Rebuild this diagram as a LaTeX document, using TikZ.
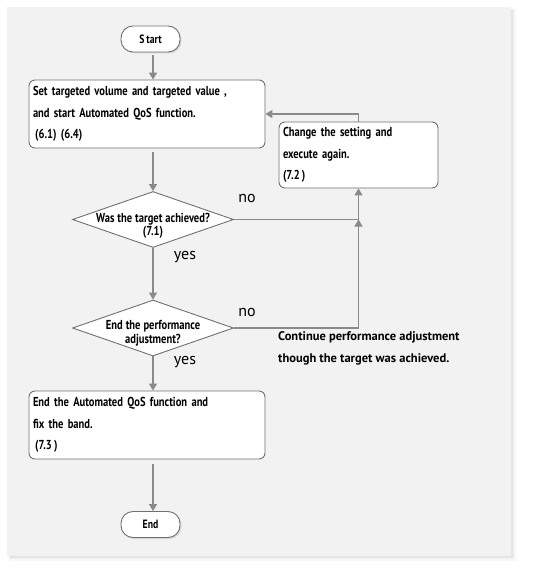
\documentclass[tikz,border=0pt]{standalone}
\usepackage{fontspec}
\setmainfont{PT Sans}
\newfontfamily\boxfont{PT Sans}[FakeStretch=0.81]
\usetikzlibrary{arrows.meta}
\usetikzlibrary{shapes.geometric}
\usetikzlibrary{shadows}
\definecolor{panelgray}{HTML}{F2F2F2}
\definecolor{linegray}{HTML}{8A8A8A}
\definecolor{boxgray}{HTML}{707070}
\newcommand{\tightspace}{\spaceskip=3pt plus 1pt minus 0.5pt\relax}

\begin{document}
\begin{tikzpicture}[x=1pt, y=-1pt,
	line/.style={draw=linegray, line width=1.3pt},
	flow/.style={line, -{Triangle[length=7pt, width=8pt]}},
	terminal/.style={draw=boxgray, line width=0.9pt, fill=white, rounded corners=12pt,
		minimum width=59pt, minimum height=26pt, inner sep=0pt,
		drop shadow={shadow xshift=1.5pt, shadow yshift=-1.5pt, fill=black!25},
		font=\boxfont\bfseries\fontsize{12}{14}\selectfont},
	process/.style={draw=boxgray, line width=0.9pt, fill=white, rounded corners=6pt,
		align=left, inner sep=4pt,
		font=\boxfont\bfseries\fontsize{13}{21.5}\selectfont\tightspace},
	decision/.style={draw=boxgray, line width=0.9pt, fill=white, diamond, inner sep=0pt,
		minimum width=161pt, minimum height=56pt},
	dtext/.style={align=center, inner sep=0pt,
		font=\boxfont\bfseries\fontsize{13}{13.5}\selectfont\tightspace},
	answer/.style={font=\fontsize{16}{18}\selectfont},
	remark/.style={align=left, inner sep=0pt, font=\bfseries\fontsize{12.5}{22}\selectfont},
]

\useasboundingbox (0, 0) rectangle (533, 569);
\fill[black!3] (9, 9) rectangle (516, 561);
\fill[black!6] (9, 9) rectangle (514, 559);
\fill[black!10] (9, 9) rectangle (512.5, 557.5);
\fill[panelgray] (7, 7) rectangle (511, 556);

\node[terminal] (start) at (150.5, 39) {S\,tart};
\node[process, text width=228pt, minimum width=236pt, minimum height=68pt] (setup) at (147, 114)
	{Set targeted volume and targeted value ,\\ and start Automated QoS function.\\ \,(6.1) (6.4)};
\node[process, text width=151pt, minimum width=159pt, minimum height=66pt] (change) at (358.5, 155)
	{Change the setting and\\ execute again.\\ (7.2\,)};
\node[decision] (target) at (153, 219.5) {};
\node[dtext] (targettext) at (153, 226) {Was the target achieved?\\ (7.1)};
\node[decision] (finish) at (153, 328) {};
\node[dtext] (finishtext) at (153, 333) {End the performance\\ adjustment?};
\node[process, text width=228pt, minimum width=236pt, minimum height=68pt] (band) at (147, 425)
	{End the Automated QoS function and\\ fix the band.\\ \,(7.3\,)};
\node[terminal] (end) at (150.5, 524.5) {End};

\node[answer] (no1) at (247, 199) {no};
\node[answer] (yes1) at (185, 257) {yes};
\node[answer] (no2) at (247, 312) {no};
\node[answer] (yes2) at (185, 362) {yes};
\node[remark, anchor=north west] (continue) at (278, 331)
	{Continue performance adjustment\\ though the target was achieved.};

\coordinate (join) at (change.south |- target.east);

\draw[flow] ([yshift=-3pt]start.south -| target.north) -- (target.north |- setup.north);
\draw[flow] ([yshift=-4pt]target.north |- setup.south) -- (target.north);
\draw[flow] (target.east) -| (change.south);
\draw[flow] (finish.east) -| (join);
\draw[flow] (change.north) |- (setup.east);
\draw[flow] (target.south) -- (finish.north);
\draw[flow] (finish.south) -- (finish.south |- band.north);
\draw[flow] ([yshift=-5pt]finish.south |- band.south) -- (finish.south |- end.north);

\end{tikzpicture}
\end{document}
